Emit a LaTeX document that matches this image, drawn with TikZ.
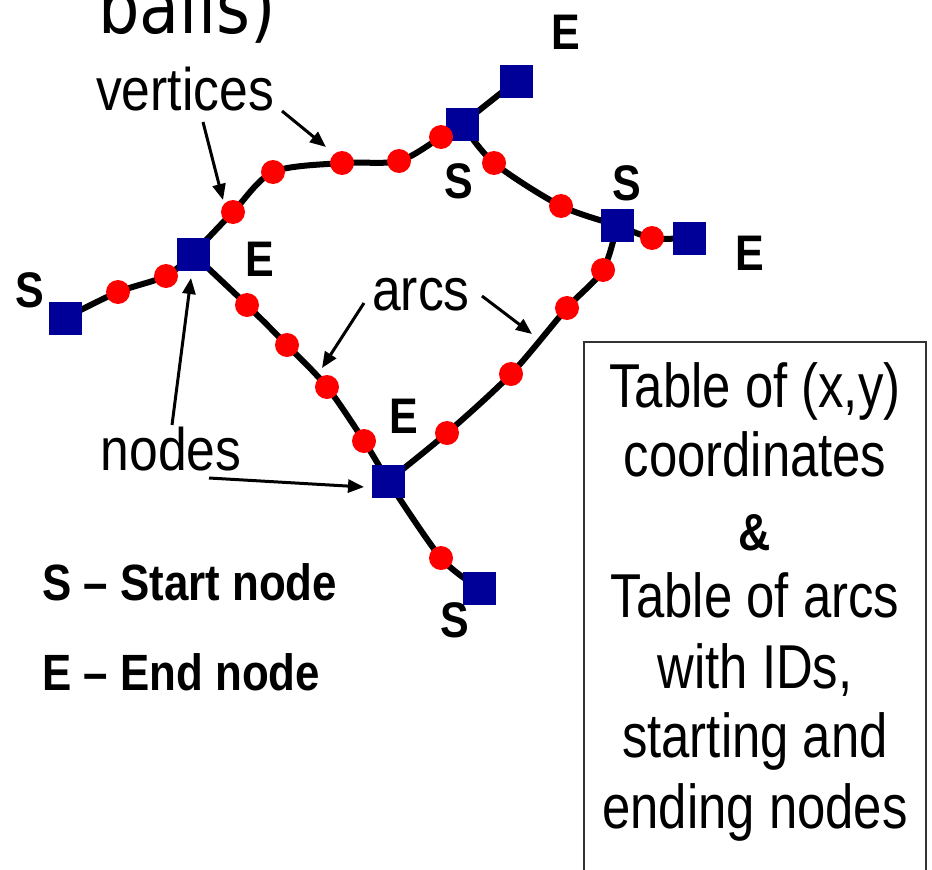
\documentclass[tikz,border=0pt]{standalone}
\usepackage{fontspec}
\setmainfont[FakeStretch=0.86]{Liberation Sans}
\newfontfamily\narrowfont[FakeStretch=0.82]{Liberation Sans}
\newfontfamily\comicfont[FakeStretch=0.87]{DejaVu Sans}
\usetikzlibrary{arrows.meta,backgrounds}
\definecolor{navy}{RGB}{0,0,153}
\begin{document}
\begin{tikzpicture}[x=1pt,y=-1pt,
  sq/.style={fill=navy, minimum size=33pt, inner sep=0pt, draw=none},
  dot/.style={circle, fill=red, minimum size=24pt, inner sep=0pt, draw=none},
  arcline/.style={line width=6pt},
  lbl/.style={font=\fontsize{50}{50}\selectfont\bfseries, anchor=base, inner sep=0pt},
  big/.style={font=\fontsize{60}{60}\selectfont, anchor=base, inner sep=0pt},
  boxtext/.style={font=\fontsize{62}{62}\selectfont\narrowfont, anchor=base, inner sep=0pt},
  legend/.style={font=\fontsize{51}{51}\selectfont\bfseries, anchor=base west, inner sep=0pt},
  ann/.style={-{Triangle[length=16pt,width=13pt]}, line width=3pt}]
\useasboundingbox (0,0) rectangle (932,870);
\clip (0,0) rectangle (932,870);

% title fragment
\node[font=\fontsize{75}{75}\selectfont\comicfont, anchor=base, inner sep=0pt] (title) at (187,33) {balls)};

% squares (nodes)
\node[sq] (A) at (65,318) {};
\node[sq] (B) at (193,254) {};
\node[sq] (C) at (462,124) {};
\node[sq] (D) at (516,81) {};
\node[sq] (F) at (617,225) {};
\node[sq] (G) at (689,238) {};
\node[sq] (H) at (388,481) {};
\node[sq] (I) at (479,588) {};

% red dots (vertices)
\node[dot] (a1) at (118,292) {};
\node[dot] (a2) at (166,276) {};
\node[dot] (b1) at (233,212) {};
\node[dot] (b2) at (273,172) {};
\node[dot] (b3) at (342,163) {};
\node[dot] (b4) at (399,161) {};
\node[dot] (b5) at (441,137) {};
\node[dot] (c1) at (494,163) {};
\node[dot] (c2) at (561,206) {};
\node[dot] (g1) at (652,238) {};
\node[dot] (f1) at (603,270) {};
\node[dot] (f2) at (567,308) {};
\node[dot] (f3) at (511,374) {};
\node[dot] (f4) at (447,433) {};
\node[dot] (h1) at (247,305) {};
\node[dot] (h2) at (287,345) {};
\node[dot] (h3) at (327,387) {};
\node[dot] (h4) at (364,441) {};
\node[dot] (i1) at (441,558) {};

\begin{scope}[on background layer]
\draw[arcline] plot[smooth] coordinates {(A.center) (a1.center) (a2.center) (B.center)};
\draw[arcline] plot[smooth] coordinates {(B.center) (b1.center) (b2.center) (b3.center) (b4.center) (b5.center) (C.center)};
\draw[arcline] (C.center) -- (D.center);
\draw[arcline] plot[smooth] coordinates {(C.center) (c1.center) (c2.center) (F.center)};
\draw[arcline] plot[smooth] coordinates {(F.center) (g1.center) (G.center)};
\draw[arcline] plot[smooth] coordinates {(F.center) (f1.center) (f2.center) (f3.center) (f4.center) (H.center)};
\draw[arcline] plot[smooth] coordinates {(B.center) (h1.center) (h2.center) (h3.center) (h4.center) (H.center)};
\draw[arcline] plot[smooth] coordinates {(H.center) (i1.center) (I.center)};
\end{scope}

% S / E labels
\node[lbl] (lD) at (566,49) {E};
\node[lbl] (lC) at (459,198) {S};
\node[lbl] (lF) at (627,200) {S};
\node[lbl] (lG) at (750,270) {E};
\node[lbl] (lB) at (260,276) {E};
\node[lbl] (lA) at (30,307) {S};
\node[lbl] (lH) at (404,433) {E};
\node[lbl] (lI) at (455,637) {S};

% annotations
\node[big] (vert) at (185,110) {vertices};
\node[big] (arcs) at (421,310) {arcs};
\node[big] (nodes) at (171,470) {nodes};

\coordinate (v1s) at (203,122); \coordinate (v1e) at (223,200);
\coordinate (v2s) at (282,111); \coordinate (v2e) at (326,147);
\coordinate (r1s) at (364,303); \coordinate (r1e) at (322,368);
\coordinate (r2s) at (482,296); \coordinate (r2e) at (532,334);
\coordinate (n1s) at (172,425); \coordinate (n1e) at (191,278);
\coordinate (n2s) at (209,478); \coordinate (n2e) at (364,487);
\draw[ann] (v1s) -- (v1e);
\draw[ann] (v2s) -- (v2e);
\draw[ann] (r1s) -- (r1e);
\draw[ann] (r2s) -- (r2e);
\draw[ann] (n1s) -- (n1e);
\draw[ann] (n2s) -- (n2e);

% legend
\node[legend] (legS) at (42,600) {S -- Start node};
\node[legend] (legE) at (42,690) {E -- End node};

% table box
\draw[line width=1.5pt, draw=black!80] (584,342) rectangle (926,900);
\node[boxtext] (t1) at (755,407) {Table of (x,y)};
\node[boxtext] (t2) at (755,476) {coordinates};
\node[anchor=base, inner sep=0pt, font=\fontsize{52}{52}\selectfont\bfseries] (t3) at (755,550) {\&};
\node[boxtext] (t4) at (755,617) {Table of arcs};
\node[boxtext] (t5) at (755,688) {with IDs,};
\node[boxtext] (t6) at (755,757) {starting and};
\node[boxtext] (t7) at (755,828) {ending nodes};
\end{tikzpicture}
\end{document}
